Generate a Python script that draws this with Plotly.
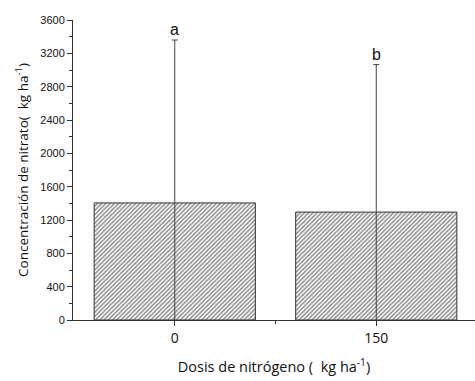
import plotly.graph_objects as go

# Nitrate concentration by nitrogen dose
doses = ["0", "150"]
nitrate = [1405, 1295]
err_up = [1955, 1770]
letters = ["a", "b"]

xpos = list(range(len(doses)))

fig = go.Figure()
fig.add_trace(go.Bar(
    x=xpos,
    y=nitrate,
    width=0.8,
    marker=dict(
        color="white",
        line=dict(color="#333333", width=1),
        pattern=dict(shape="/", fgcolor="#1a1a1a", bgcolor="white", size=3, solidity=0.5),
    ),
    error_y=dict(type="data", array=err_up, symmetric=True,
                 color="#444444", thickness=1, width=3),
    showlegend=False,
))

for xi, v, e, lab in zip(xpos, nitrate, err_up, letters):
    fig.add_annotation(x=xi, y=v + e, text=lab, showarrow=False,
                       yanchor="bottom", yshift=0,
                       font=dict(family="Liberation Sans, Arial", size=16, color="#111111"))

fig.update_layout(
    width=475, height=381,
    margin=dict(l=73, r=0, t=20, b=61),
    paper_bgcolor="white", plot_bgcolor="white",
    bargap=0.2,
)
fig.update_xaxes(
    range=[-0.505, 1.49],
    tickmode="array", tickvals=xpos, ticktext=doses,
    ticks="outside", ticklen=5, tickcolor="#333333",
    minor=dict(tickmode="array", tickvals=[0.5], ticks="outside", ticklen=3, tickcolor="#333333"),
    showline=True, linecolor="#333333", linewidth=1,
    showgrid=False, zeroline=False,
    tickfont=dict(family="Open Sans", size=14, color="#111111"),
    title=dict(text="Dosis de nitrógeno (  kg ha<sup>-1</sup>)", standoff=16,
               font=dict(family="Open Sans", size=14.5, color="#111111")),
)
fig.update_yaxes(
    range=[0, 3600],
    tickmode="linear", tick0=0, dtick=400,
    ticks="outside", ticklen=5, tickcolor="#333333",
    minor=dict(dtick=200, ticks="outside", ticklen=3, tickcolor="#333333"),
    showline=True, linecolor="#333333", linewidth=1,
    showgrid=False, zeroline=False,
    tickfont=dict(family="Liberation Sans, Arial", size=11, color="#111111"),
    title=dict(text="Concentración de nitrato(  kg ha<sup>-1</sup>)", standoff=8,
               font=dict(family="Open Sans", size=13.5, color="#111111")),
)

fig.write_html("out.html")
